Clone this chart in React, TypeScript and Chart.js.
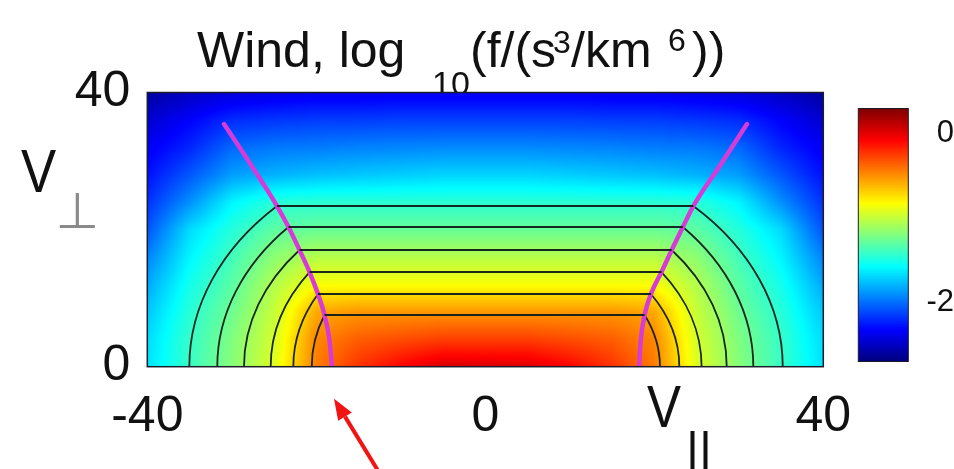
import React, { useEffect, useRef } from "react";
import { Chart, registerables } from "chart.js";

Chart.register(...registerables);

// ---- data ---------------------------------------------------------------

// grid of log10 f samples: columns along v_parallel, rows along v_perp
const vParGrid = [-40, -35, -30, -25, -20, -15, -10, -5, 0, 5, 10, 15, 20, 25, 30, 35, 40];
const vPerpGrid = [0, 4, 8, 12, 16, 20, 24, 28, 32, 36, 40];
const logF: number[][] = [
  [-1.66, -1.41, -1.18, -0.92, -0.44, -0.22, -0.08, 0.04, 0.03, 0.02, -0.08, -0.22, -0.44, -0.92, -1.18, -1.41, -1.66],
  [-1.68, -1.42, -1.2, -0.95, -0.47, -0.35, -0.3, -0.26, -0.26, -0.26, -0.3, -0.35, -0.47, -0.95, -1.2, -1.42, -1.68],
  [-1.74, -1.46, -1.25, -0.99, -0.57, -0.52, -0.52, -0.52, -0.52, -0.52, -0.52, -0.52, -0.57, -0.99, -1.25, -1.46, -1.74],
  [-1.83, -1.52, -1.31, -1.05, -0.84, -0.84, -0.84, -0.84, -0.84, -0.84, -0.84, -0.84, -0.84, -1.05, -1.31, -1.52, -1.83],
  [-1.94, -1.6, -1.38, -1.16, -1.04, -1.04, -1.04, -1.04, -1.04, -1.04, -1.04, -1.04, -1.04, -1.16, -1.38, -1.6, -1.94],
  [-2.08, -1.68, -1.47, -1.3, -1.27, -1.27, -1.27, -1.27, -1.27, -1.27, -1.27, -1.27, -1.27, -1.3, -1.47, -1.68, -2.08],
  [-2.18, -1.9, -1.6, -1.46, -1.45, -1.45, -1.45, -1.45, -1.45, -1.45, -1.45, -1.45, -1.45, -1.46, -1.6, -1.9, -2.18],
  [-2.28, -2.07, -1.86, -1.8, -1.76, -1.74, -1.72, -1.7, -1.7, -1.7, -1.72, -1.74, -1.76, -1.8, -1.86, -2.07, -2.28],
  [-2.36, -2.22, -2.02, -1.97, -1.96, -1.94, -1.93, -1.92, -1.92, -1.92, -1.93, -1.94, -1.96, -1.97, -2.02, -2.22, -2.36],
  [-2.46, -2.33, -2.2, -2.17, -2.15, -2.15, -2.14, -2.14, -2.14, -2.14, -2.14, -2.15, -2.15, -2.17, -2.2, -2.33, -2.46],
  [-2.6, -2.5, -2.43, -2.4, -2.38, -2.38, -2.37, -2.37, -2.37, -2.37, -2.37, -2.38, -2.38, -2.4, -2.43, -2.5, -2.6],
];

const xTicks = [-40, 0, 40];
const yTicks = [0, 40];
const colorTicks = [0, -2];
const colorMin = -2.7;
const colorMax = 0.3;

// model contours: flat levels inside the boundary, arcs outside it
const contourHeights = [23.44, 20.38, 17.02, 13.81, 10.6, 7.54];
const contourLeftEnd = [-24.65, -23.29, -21.99, -20.8, -19.8, -19.03];
const contourRightEnd = [24.62, 23.38, 22.06, 20.85, 19.6, 18.85];
const arcFootLeft = [-35.03, -31.72, -28.56, -25.4, -22.72, -20.54];
const arcFootRight = [35.2, 31.72, 28.57, 25.6, 22.96, 20.67];

// boundary curves (magenta), ordered by increasing v_parallel
const boundaryLeftX = [-30.92, -27.73, -24.65, -23.29, -21.99, -20.8, -19.8, -19.03, -18.44, -18.14];
const boundaryLeftY = [35.4, 29.43, 23.44, 20.38, 17.02, 13.81, 10.6, 7.54, 3.9, 0];
const boundaryRightX = [18.2, 18.4, 18.85, 19.6, 20.85, 22.06, 23.38, 24.62, 27.8, 30.97];
const boundaryRightY = [0, 3.9, 7.54, 10.6, 13.81, 17.02, 20.38, 23.44, 29.4, 35.4];

// the arrow points at the foot of the left boundary
const arrowTarget = -17.9;

// ---- helpers ------------------------------------------------------------

const FONT = "'Liberation Sans', Arial, Helvetica, sans-serif";
const CONTOUR_COLOR = "rgba(16, 30, 26, 0.95)";
const BOUNDARY_COLOR = "#d63bd8";

const clamp01 = (v: number) => Math.max(0, Math.min(1, v));

function jet(t: number): [number, number, number] {
  const u = clamp01(t);
  const r = clamp01(1.5 - Math.abs(4 * u - 3));
  const g = clamp01(1.5 - Math.abs(4 * u - 2));
  const b = clamp01(1.5 - Math.abs(4 * u - 1));
  return [Math.round(r * 255), Math.round(g * 255), Math.round(b * 255)];
}

function locate(arr: number[], v: number): [number, number] {
  if (v <= arr[0]) return [0, 0];
  const n = arr.length - 1;
  if (v >= arr[n]) return [n - 1, 1];
  for (let i = 0; i < n; i++) {
    if (v >= arr[i] && v <= arr[i + 1]) return [i, (v - arr[i]) / (arr[i + 1] - arr[i])];
  }
  return [n - 1, 1];
}

function sampleLogF(vx: number, vy: number): number {
  const [i, fx] = locate(vParGrid, vx);
  const [j, fy] = locate(vPerpGrid, vy);
  const i2 = Math.min(i + 1, vParGrid.length - 1);
  const j2 = Math.min(j + 1, vPerpGrid.length - 1);
  const a = logF[j][i];
  const b = logF[j][i2];
  const c = logF[j2][i];
  const d = logF[j2][i2];
  return (a * (1 - fx) + b * fx) * (1 - fy) + (c * (1 - fx) + d * fx) * fy;
}

const toPoints = (xs: number[], ys: number[]) => xs.map((x, i) => ({ x, y: ys[i] }));

// ---- plugins ------------------------------------------------------------

const titlePlugin = {
  id: "titleText",
  beforeDraw(chart: any) {
    const ctx = chart.ctx as CanvasRenderingContext2D;
    ctx.save();
    ctx.fillStyle = "#111";
    ctx.textBaseline = "alphabetic";
    ctx.textAlign = "left";
    const parts: [string, number, number, number][] = [
      ["Wind, log", 197, 67, 50],
      ["10", 432, 95, 34],
      ["(f/(s", 470, 67, 50],
      ["3", 553, 53, 32],
      ["/km", 571, 67, 50],
      ["6", 668, 51, 32],
      ["))", 692, 67, 50],
    ];
    for (const [text, x, y, size] of parts) {
      ctx.font = `${size}px ${FONT}`;
      ctx.fillText(text, x, y);
    }
    ctx.restore();
  },
};

const heatmapPlugin = {
  id: "heatmap",
  beforeDatasetsDraw(chart: any) {
    const { ctx, chartArea: a, scales } = chart;
    const xs = scales.x;
    const ys = scales.y;
    const w = Math.round(a.right - a.left);
    const h = Math.round(a.bottom - a.top);
    const off = document.createElement("canvas");
    off.width = w;
    off.height = h;
    const octx = off.getContext("2d") as CanvasRenderingContext2D;
    const img = octx.createImageData(w, h);
    for (let j = 0; j < h; j++) {
      const vy = ys.getValueForPixel(a.top + j + 0.5);
      for (let i = 0; i < w; i++) {
        const vx = xs.getValueForPixel(a.left + i + 0.5);
        const v = sampleLogF(vx, vy);
        const [r, g, b] = jet((v - colorMin) / (colorMax - colorMin));
        const k = (j * w + i) * 4;
        img.data[k] = r;
        img.data[k + 1] = g;
        img.data[k + 2] = b;
        img.data[k + 3] = 255;
      }
    }
    octx.putImageData(img, 0, 0);
    ctx.drawImage(off, a.left, a.top);

    // arcs of the contours outside the boundary
    const cx = xs.getPixelForValue(0);
    const cy = ys.getPixelForValue(0);
    ctx.save();
    ctx.beginPath();
    ctx.rect(a.left, a.top, a.right - a.left, a.bottom - a.top);
    ctx.clip();
    ctx.strokeStyle = CONTOUR_COLOR;
    ctx.lineWidth = 1.8;
    for (let i = 0; i < contourHeights.length; i++) {
      const dy = cy - ys.getPixelForValue(contourHeights[i]);
      // left side
      {
        const rx = cx - xs.getPixelForValue(arcFootLeft[i]);
        const dx = xs.getPixelForValue(contourLeftEnd[i]) - cx;
        const ry = dy / Math.sqrt(Math.max(1e-6, 1 - (dx / rx) ** 2));
        const t = Math.atan2(-dy / ry, dx / rx);
        ctx.beginPath();
        ctx.ellipse(cx, cy, rx, ry, 0, -Math.PI, t);
        ctx.stroke();
      }
      // right side
      {
        const rx = xs.getPixelForValue(arcFootRight[i]) - cx;
        const dx = xs.getPixelForValue(contourRightEnd[i]) - cx;
        const ry = dy / Math.sqrt(Math.max(1e-6, 1 - (dx / rx) ** 2));
        const t = Math.atan2(-dy / ry, dx / rx);
        ctx.beginPath();
        ctx.ellipse(cx, cy, rx, ry, 0, t, 0);
        ctx.stroke();
      }
    }
    ctx.restore();
  },
  afterDatasetsDraw(chart: any) {
    const { ctx, chartArea: a } = chart;
    ctx.save();
    ctx.strokeStyle = "#1c1c2a";
    ctx.lineWidth = 1.5;
    ctx.strokeRect(a.left, a.top, a.right - a.left, a.bottom - a.top);
    ctx.restore();
  },
};

const annotationPlugin = {
  id: "axisNames",
  afterDraw(chart: any) {
    const { ctx, chartArea: a, scales } = chart;
    ctx.save();
    ctx.fillStyle = "#111";
    ctx.textBaseline = "alphabetic";
    ctx.textAlign = "left";

    // V perp
    ctx.save();
    ctx.translate(21, 192);
    ctx.scale(0.85, 1);
    ctx.font = `62px ${FONT}`;
    ctx.fillText("V", 0, 0);
    ctx.restore();
    ctx.save();
    ctx.fillStyle = "#8a8a8a";
    ctx.textAlign = "center";
    ctx.font = "50px 'DejaVu Sans', sans-serif";
    ctx.fillText("\u22A5", 77.5, 228);
    ctx.restore();

    // V parallel
    ctx.save();
    ctx.translate(647, 427);
    ctx.scale(0.85, 1);
    ctx.font = `60px ${FONT}`;
    ctx.fillText("V", 0, 0);
    ctx.restore();
    ctx.font = `50px ${FONT}`;
    ctx.fillText("||", 686, 467);

    // red arrow
    const tipX = scales.x.getPixelForValue(arrowTarget);
    const tipY = a.bottom + 32;
    const tailX = tipX + 46;
    const tailY = 474;
    const ang = Math.atan2(tipY - tailY, tipX - tailX);
    const headLen = 21;
    const headHalf = 8;
    const baseX = tipX - headLen * Math.cos(ang);
    const baseY = tipY - headLen * Math.sin(ang);
    ctx.strokeStyle = "#f01414";
    ctx.fillStyle = "#f01414";
    ctx.lineWidth = 4;
    ctx.beginPath();
    ctx.moveTo(tailX, tailY);
    ctx.lineTo(baseX, baseY);
    ctx.stroke();
    ctx.beginPath();
    ctx.moveTo(tipX, tipY);
    ctx.lineTo(baseX + headHalf * Math.sin(ang), baseY - headHalf * Math.cos(ang));
    ctx.lineTo(baseX - headHalf * Math.sin(ang), baseY + headHalf * Math.cos(ang));
    ctx.closePath();
    ctx.fill();
    ctx.restore();
  },
};

const colorbarPlugin = {
  id: "colorbar",
  beforeDatasetsDraw(chart: any) {
    const { ctx, chartArea: a, scales } = chart;
    const ys = scales.y;
    for (let py = Math.floor(a.top); py < Math.ceil(a.bottom); py++) {
      const v = ys.getValueForPixel(py + 0.5);
      const [r, g, b] = jet((v - colorMin) / (colorMax - colorMin));
      ctx.fillStyle = `rgb(${r},${g},${b})`;
      ctx.fillRect(a.left, py, a.right - a.left, 1);
    }
    ctx.save();
    ctx.strokeStyle = "#1c1c2a";
    ctx.lineWidth = 1;
    ctx.strokeRect(a.left, a.top, a.right - a.left, a.bottom - a.top);
    ctx.restore();
  },
};

// ---- component ----------------------------------------------------------

export default function App() {
  const mainRef = useRef<HTMLCanvasElement | null>(null);
  const barRef = useRef<HTMLCanvasElement | null>(null);

  useEffect(() => {
    if (!mainRef.current || !barRef.current) return;

    const lineSets = contourHeights.map((h, i) => ({
      data: [
        { x: contourLeftEnd[i], y: h },
        { x: contourRightEnd[i], y: h },
      ],
      showLine: true,
      borderColor: CONTOUR_COLOR,
      borderWidth: 2,
      pointRadius: 0,
      tension: 0,
    }));

    const boundarySets = [
      toPoints(boundaryLeftX, boundaryLeftY),
      toPoints(boundaryRightX, boundaryRightY),
    ].map((pts) => ({
      data: pts,
      showLine: true,
      borderColor: BOUNDARY_COLOR,
      borderWidth: 4.5,
      pointRadius: 0,
      cubicInterpolationMode: "monotone" as const,
      borderCapStyle: "round" as const,
    }));

    const tickFont = { family: FONT, size: 50 };

    const main = new Chart(mainRef.current, {
      type: "scatter",
      data: { datasets: [...lineSets, ...boundarySets] as any },
      options: {
        animation: false,
        responsive: false,
        devicePixelRatio: 1,
        layout: { padding: { top: 92.5, right: 130.7, left: 0, bottom: 0 } },
        plugins: { legend: { display: false }, tooltip: { enabled: false }, title: { display: false } },
        scales: {
          x: {
            type: "linear",
            min: -40,
            max: 40,
            afterBuildTicks: (s: any) => {
              s.ticks = xTicks.map((value) => ({ value }));
            },
            afterFit: (s: any) => {
              s.height = 102.3;
            },
            grid: { display: false },
            border: { display: false },
            ticks: { font: tickFont, color: "#111", padding: 13, maxRotation: 0, autoSkip: false },
          },
          y: {
            type: "linear",
            min: 0,
            max: 40,
            afterBuildTicks: (s: any) => {
              s.ticks = yTicks.map((value) => ({ value }));
            },
            afterFit: (s: any) => {
              s.width = 147.3;
            },
            grid: { display: false },
            border: { display: false },
            ticks: { font: tickFont, color: "#111", padding: 9, autoSkip: false },
          },
        },
      },
      plugins: [titlePlugin, heatmapPlugin, annotationPlugin],
    });

    const bar = new Chart(barRef.current, {
      type: "scatter",
      data: { datasets: [] },
      options: {
        animation: false,
        responsive: false,
        devicePixelRatio: 1,
        layout: { padding: { top: 25, bottom: 22.7, left: 38.3, right: 0 } },
        plugins: { legend: { display: false }, tooltip: { enabled: false } },
        scales: {
          x: { display: false, min: 0, max: 1 },
          y: {
            position: "right",
            min: colorMin,
            max: colorMax,
            afterBuildTicks: (s: any) => {
              s.ticks = colorTicks.map((value) => ({ value }));
            },
            afterFit: (s: any) => {
              s.width = 45.7;
            },
            grid: { display: false },
            border: { display: false },
            ticks: { font: { family: FONT, size: 31 }, color: "#111", padding: 10, crossAlign: "far" },
          },
        },
      },
      plugins: [colorbarPlugin],
    });

    return () => {
      main.destroy();
      bar.destroy();
    };
  }, []);

  return (
    <div style={{ position: "absolute", left: 0, top: 0, width: 954, height: 469, background: "#fff", overflow: "hidden" }}>
      <canvas ref={mainRef} width={954} height={469} style={{ position: "absolute", left: 0, top: 0, width: 954, height: 469 }} />
      <canvas ref={barRef} width={134} height={310} style={{ position: "absolute", left: 820, top: 80, width: 134, height: 310 }} />
    </div>
  );
}
